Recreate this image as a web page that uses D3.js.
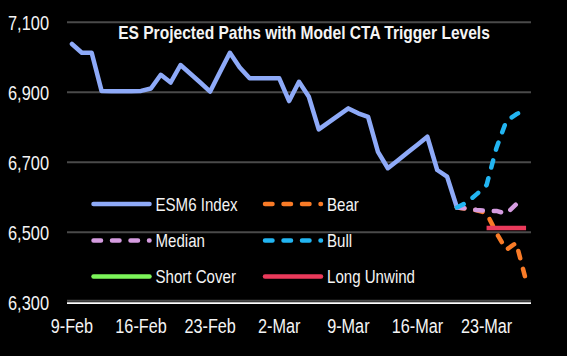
<!DOCTYPE html>
<html>
<head>
<meta charset="utf-8">
<script src="https://cdn.jsdelivr.net/npm/d3@7"></script>
<style>
  html, body { margin: 0; padding: 0; background: #000; }
  svg { display: block; }
  text { font-family: "Liberation Sans", Arial, sans-serif; fill: #f4f4f4; }
</style>
</head>
<body>
<svg id="chart" width="567" height="356"></svg>
<script>
// ---------- data ----------
const title = "ES Projected Paths with Model CTA Trigger Levels";
const startDate = "2026-02-09";
const esmValues = [7038, 7013, 7013, 6904, 6903, 6903, 6903, 6904, 6911, 6950,
                   6928, 6978, 6953, 6928, 6902, 6958, 7013, 6971, 6940, 6940,
                   6940, 6940, 6875, 6930, 6887, 6794, 6814, 6834, 6854, 6840,
                   6830, 6730, 6683, 6705, 6728, 6750, 6773, 6678, 6659, 6571];
const projStart = "2026-03-20";
const bearValues   = [6571, 6567, 6563, 6555, 6498, 6450, 6470, 6362];
const medianValues = [6571, 6568, 6564, 6561, 6561, 6553, 6580];
const bullValues   = [6571, 6585, 6609, 6635, 6741, 6818, 6837, 6852];
const shortCoverValues = [];
const unwindStart = "2026-03-23";
const longUnwindValues = [6512, 6512, 6512, 6512, 6512];
const yTicks = [6300, 6500, 6700, 6900, 7100];
const xTickDates = ["2026-02-09", "2026-02-16", "2026-02-23", "2026-03-02", "2026-03-09", "2026-03-16", "2026-03-23"];
const legendNames = ["ESM6 Index", "Bear", "Median", "Bull", "Short Cover", "Long Unwind"];

// ---------- helpers ----------
const DAY = 86400000;
const parse = s => new Date(s + "T00:00:00Z");
const series = (start, vals) => vals.map((v, i) => ({ date: new Date(parse(start).getTime() + i * DAY), value: v }));
const NARROW = 0.82;
function addText(parent, tx, ty, str, size, anchor, opts = {}) {
  const t = parent.append("text")
    .attr("transform", `translate(${tx},${ty}) scale(${opts.sx || NARROW},1)`)
    .attr("text-anchor", anchor || "start")
    .attr("dy", opts.dy || "0.36em")
    .attr("font-size", size)
    .text(str);
  if (opts.bold) t.attr("font-weight", "bold");
  if (opts.fill) t.attr("fill", opts.fill);
  return t;
}

const svg = d3.select("#chart");
const x = d3.scaleUtc()
  .domain([new Date(parse("2026-02-09").getTime() - DAY / 2), new Date(parse("2026-03-27").getTime() + DAY / 2)])
  .range([67, 531]);
const y = d3.scaleLinear().domain([6300, 7100]).range([302.3, 22.3]);

// gridlines
svg.append("g").selectAll("line").data(yTicks).join("line")
  .attr("x1", 67).attr("x2", 531)
  .attr("y1", d => y(d) - (d === 6300 ? 1.5 : 0)).attr("y2", d => y(d) - (d === 6300 ? 1.5 : 0))
  .attr("stroke", "#4a4a4a").attr("stroke-width", 2);

// x axis line
svg.append("line").attr("x1", 67).attr("x2", 531)
  .attr("y1", y(6300) + 0.8).attr("y2", y(6300) + 0.8)
  .attr("stroke", "#ffffff").attr("stroke-width", 1.6);

// y axis labels
const fmt = d3.format(",");
const yg = svg.append("g");
yTicks.forEach(d => addText(yg, 49, y(d), fmt(d), 20, "end"));

// x axis labels
const xFmt = d3.utcFormat("%-d-%b");
const xg = svg.append("g");
xTickDates.map(parse).forEach(d => addText(xg, x(d), 326, xFmt(d), 19.8, "middle"));

// styles
const styles = {
  "ESM6 Index":  { color: "#8eaaf8", width: 4.5, dash: null },
  "Bear":        { color: "#f97b27", width: 4.5, dash: "7.5,11" },
  "Median":      { color: "#d59ce0", width: 4.5, dash: "7.5,11" },
  "Bull":        { color: "#22b5f2", width: 4.5, dash: "7.5,11" },
  "Short Cover": { color: "#7cf55a", width: 4.5, dash: null },
  "Long Unwind": { color: "#ea3a5b", width: 4.5, dash: null }
};
const data = {
  "ESM6 Index": series(startDate, esmValues),
  "Bear": series(projStart, bearValues),
  "Median": series(projStart, medianValues),
  "Bull": series(projStart, bullValues),
  "Short Cover": series(projStart, shortCoverValues),
  "Long Unwind": series(unwindStart, longUnwindValues)
};
const line = d3.line().x(d => x(d.date)).y(d => y(d.value));

legendNames.forEach(name => {
  const s = styles[name];
  if (!data[name].length) return;
  svg.append("path").datum(data[name])
    .attr("d", line)
    .attr("fill", "none")
    .attr("stroke", s.color)
    .attr("stroke-width", s.width)
    .attr("stroke-linejoin", "round")
    .attr("stroke-linecap", name === "Long Unwind" ? "butt" : "round")
    .attr("stroke-dasharray", s.dash);
});

// title (fit to reference width)
const tt = addText(svg, 304, 38.5, title, 17.5, "middle", { bold: true, fill: "#ffffff", dy: "0", sx: 1 });
const tw = tt.node().getComputedTextLength();
tt.attr("transform", `translate(304,38.5) scale(${372 / tw},1)`);

// legend
const legendCols = [93.5, 265];
const legendRows = [204, 240.5, 276.5];
legendNames.forEach((name, i) => {
  const s = styles[name];
  const lx = legendCols[i % 2], ly = legendRows[Math.floor(i / 2)];
  const g = svg.append("g");
  g.append("line").attr("x1", lx).attr("x2", lx + 56).attr("y1", ly).attr("y2", ly)
    .attr("stroke", s.color).attr("stroke-width", 4.5)
    .attr("stroke-linecap", "round")
    .attr("stroke-dasharray", s.dash);
  addText(g, lx + 62, ly, name, 18.4, "start");
});
</script>
</body>
</html>
